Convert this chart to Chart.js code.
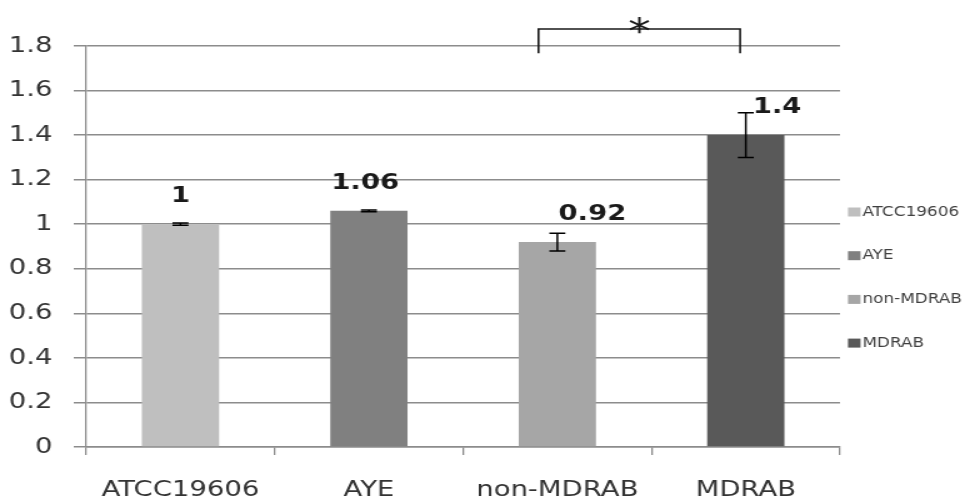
<!DOCTYPE html>
<html>
<head>
<meta charset="utf-8">
<script src="https://cdn.jsdelivr.net/npm/chart.js@4.4.1/dist/chart.umd.min.js"></script>
<style>
  html, body { margin: 0; padding: 0; background: #fff; overflow: hidden; }
  /* the original chart is stretched sideways, so draw narrow and widen it */
  #wrap { width: 783px; height: 503px; transform: scaleX(1.25); transform-origin: 0 0; }
</style>
</head>
<body>
<div id="wrap"><canvas id="chart"></canvas></div>
<script>
const categories = ['ATCC19606', 'AYE', 'non-MDRAB', 'MDRAB'];
const values = [1, 1.06, 0.92, 1.4];
const errors = [0.005, 0.004, 0.04, 0.1];
const valueLabels = ['1', '1.06', '0.92', '1.4'];
const barColors = ['#bfbfbf', '#808080', '#a6a6a6', '#595959'];
const yTickLabels = ['0', '0.2', '0.4', '0.6', '0.8', '1', '1.2', '1.4', '1.6', '1.8'];
// significance bracket between non-MDRAB and MDRAB
const bracket = { from: 1.9, to: 2.97, top: 1.876, bottom: 1.768, text: '*' };

const gridColor = '#8c8c8c';
const font = 'DejaVu Sans';

// error bars drawn through the y scale
const errorBarPlugin = {
  id: 'errorBars',
  afterDatasetsDraw(chart) {
    const ctx = chart.ctx, y = chart.scales.y;
    const meta = chart.getDatasetMeta(0);
    ctx.save();
    ctx.strokeStyle = '#000';
    ctx.lineWidth = 1.5;
    meta.data.forEach((bar, i) => {
      const top = y.getPixelForValue(values[i] + errors[i]);
      const bot = y.getPixelForValue(values[i] - errors[i]);
      ctx.beginPath();
      ctx.moveTo(bar.x, top);
      ctx.lineTo(bar.x, bot);
      ctx.moveTo(bar.x - 6.4, top);
      ctx.lineTo(bar.x + 6.4, top);
      ctx.moveTo(bar.x - 6.4, bot);
      ctx.lineTo(bar.x + 6.4, bot);
      ctx.stroke();
    });
    ctx.restore();
  }
};

// bold value labels above bars
const labelShift = [0, -3, 28, 25];
const valueLabelPlugin = {
  id: 'valueLabels',
  afterDatasetsDraw(chart) {
    const ctx = chart.ctx, y = chart.scales.y;
    const meta = chart.getDatasetMeta(0);
    ctx.save();
    ctx.font = 'bold 22px ' + font;
    ctx.fillStyle = '#1a1a1a';
    ctx.textAlign = 'center';
    ctx.textBaseline = 'alphabetic';
    meta.data.forEach((bar, i) => {
      ctx.fillText(valueLabels[i], bar.x + labelShift[i], y.getPixelForValue(values[i]) - 22);
    });
    ctx.restore();
  }
};

const bracketPlugin = {
  id: 'bracket',
  afterDraw(chart) {
    const ctx = chart.ctx, x = chart.scales.x, y = chart.scales.y;
    const x1 = x.getPixelForValue(bracket.from), x2 = x.getPixelForValue(bracket.to);
    const yt = y.getPixelForValue(bracket.top), yb = y.getPixelForValue(bracket.bottom);
    ctx.save();
    ctx.strokeStyle = '#1a1a1a';
    ctx.lineWidth = 1.6;
    ctx.beginPath();
    ctx.moveTo(x1, yb);
    ctx.lineTo(x1, yt);
    ctx.lineTo(x2, yt);
    ctx.lineTo(x2, yb);
    ctx.stroke();
    ctx.font = '36px ' + font;
    ctx.fillStyle = '#1a1a1a';
    ctx.textAlign = 'center';
    ctx.textBaseline = 'alphabetic';
    ctx.fillText(bracket.text, (x1 + x2) / 2, yt + 14);
    ctx.restore();
  }
};

// legend on the right, one entry per category
const legendPlugin = {
  id: 'sideLegend',
  afterDraw(chart) {
    const ctx = chart.ctx;
    const left = chart.chartArea.right + 6.4;
    ctx.save();
    ctx.font = '13.5px ' + font;
    ctx.textBaseline = 'middle';
    ctx.textAlign = 'left';
    categories.forEach((c, i) => {
      const cy = 212 + i * 43.7;
      ctx.fillStyle = barColors[i];
      ctx.fillRect(left, cy - 4.5, 10, 9);
      ctx.fillStyle = '#404040';
      ctx.fillText(c, left + 11.5, cy);
    });
    ctx.restore();
  }
};

new Chart(document.getElementById('chart'), {
  type: 'bar',
  data: {
    labels: categories,
    datasets: [{
      data: values,
      backgroundColor: barColors,
      borderWidth: 0,
      categoryPercentage: 1,
      barPercentage: 0.41
    }]
  },
  options: {
    responsive: true,
    maintainAspectRatio: false,
    animation: false,
    layout: { padding: { top: 46, right: 111, left: 0, bottom: 0 } },
    plugins: {
      legend: { display: false },
      tooltip: { enabled: false }
    },
    scales: {
      x: {
        grid: { drawOnChartArea: false, drawTicks: true, tickLength: 8, color: gridColor, lineWidth: 1.3 },
        border: { color: gridColor, width: 1.5 },
        ticks: { font: { family: font, size: 22 }, color: '#333', padding: 22 },
        afterFit(s) { s.height = 56; }
      },
      y: {
        min: 0,
        max: 1.8,
        grid: { color: gridColor, lineWidth: 1.5, tickLength: 10 },
        border: { color: gridColor, width: 1.3 },
        ticks: {
          stepSize: 0.2,
          font: { family: font, size: 22 },
          color: '#333',
          padding: 17,
          callback: (v, i) => yTickLabels[i]
        },
        afterFit(s) { s.width = 69; }
      }
    }
  },
  plugins: [errorBarPlugin, valueLabelPlugin, bracketPlugin, legendPlugin]
});
</script>
</body>
</html>
